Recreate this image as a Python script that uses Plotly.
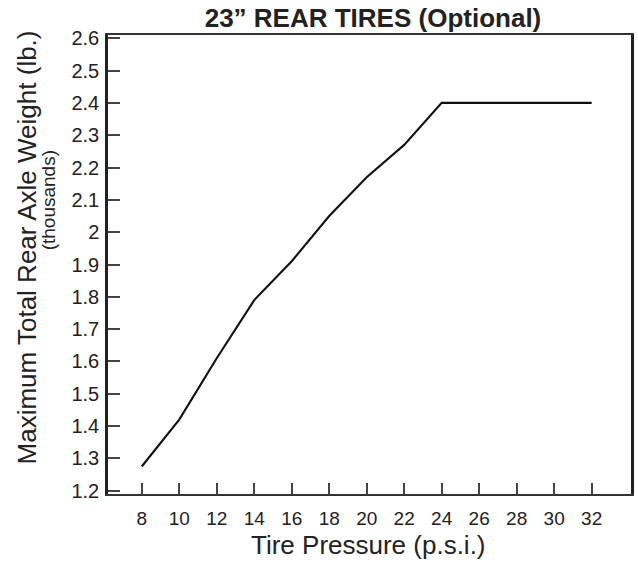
import plotly.graph_objects as go

# Data
pressure_psi = [8, 10, 12, 14, 16, 18, 20, 22, 24, 26, 28, 30, 32]
max_weight_thousands = [1.275, 1.42, 1.61, 1.79, 1.91, 2.05, 2.17, 2.27, 2.40, 2.40, 2.40, 2.40, 2.40]

x_tick_vals = [8, 10, 12, 14, 16, 18, 20, 22, 24, 26, 28, 30, 32]
y_tick_vals = [1.2, 1.3, 1.4, 1.5, 1.6, 1.7, 1.8, 1.9, 2.0, 2.1, 2.2, 2.3, 2.4, 2.5, 2.6]
y_tick_text = ["1.2", "1.3", "1.4", "1.5", "1.6", "1.7", "1.8", "1.9", "2", "2.1", "2.2", "2.3", "2.4", "2.5", "2.6"]

title_text = "23\u201d REAR TIRES (Optional)"
x_title = "Tire Pressure (p.s.i.)"
y_title = "Maximum Total Rear Axle Weight (lb.)"
y_subtitle = "(thousands)"

FONT = "Liberation Sans, Arial, Helvetica, sans-serif"
INK = "#222222"

fig = go.Figure()
fig.add_trace(go.Scatter(
    x=pressure_psi, y=max_weight_thousands, mode="lines",
    line=dict(color="#111111", width=2.1), hoverinfo="skip", showlegend=False,
))

W, H = 638, 563
L, R, T, B = 108, 4, 35, 69
pw, ph = W - L - R, H - T - B

def px_x(px):
    return (px - L) / pw

def px_y(py):
    return (H - B - py) / ph

fig.update_layout(
    width=W, height=H,
    margin=dict(l=L, r=R, t=T, b=B, pad=0),
    paper_bgcolor="white", plot_bgcolor="white",
    font=dict(family=FONT, color=INK, size=19),
    title=dict(text="<b>" + title_text + "</b>", x=373 / W, xanchor="center",
               y=1 - 18 / H, yanchor="middle", yref="container",
               font=dict(family=FONT, size=26, color=INK)),
    xaxis=dict(range=[6.2, 34.1], tickvals=x_tick_vals, ticks="inside", ticklen=11,
               tickwidth=2, tickcolor="#444", showline=True, linecolor="#333",
               linewidth=2, mirror=True, showgrid=False, zeroline=False,
               ticklabelstandoff=6,
               tickfont=dict(size=19, color=INK), fixedrange=True),
    yaxis=dict(range=[1.19, 2.61], tickvals=y_tick_vals, ticktext=y_tick_text,
               ticks="inside", ticklen=12, tickwidth=1.5, tickcolor="#444",
               showline=True, linecolor="#222", linewidth=2.5, mirror=True,
               showgrid=False, zeroline=False, ticklabelstandoff=2,
               tickfont=dict(size=20, color=INK), fixedrange=True),
    annotations=[
        dict(text=x_title, xref="paper", yref="paper", x=px_x(370), y=px_y(545),
             xanchor="center", yanchor="middle", showarrow=False,
             font=dict(family=FONT, size=26, color=INK)),
        dict(text=y_title, xref="paper", yref="paper", x=px_x(27), y=px_y(247),
             xanchor="center", yanchor="middle", showarrow=False, textangle=-90,
             font=dict(family=FONT, size=26, color=INK)),
        dict(text=y_subtitle, xref="paper", yref="paper", x=px_x(48), y=px_y(200),
             xanchor="center", yanchor="middle", showarrow=False, textangle=-90,
             font=dict(family=FONT, size=19, color=INK)),
    ],
)

fig.write_html("out.html", config={"displayModeBar": False},
               post_script="document.body.style.margin='0';")
